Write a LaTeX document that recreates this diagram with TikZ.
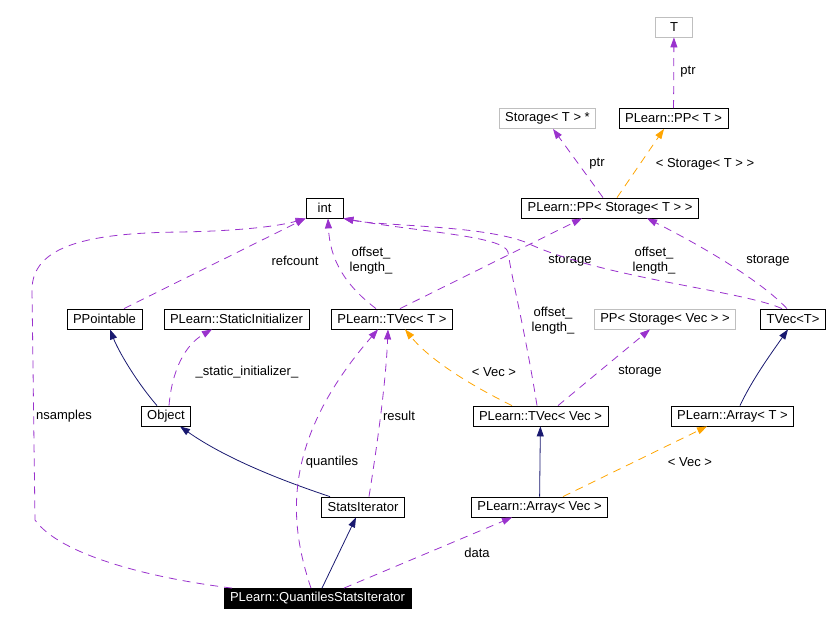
\documentclass[tikz,border=0pt]{standalone}
\usepackage{fontspec}
\setmainfont{Liberation Sans}
\usetikzlibrary{arrows.meta}
\definecolor{orchid}{RGB}{154,50,205}
\definecolor{navyline}{RGB}{25,25,112}
\definecolor{tplorange}{RGB}{255,165,0}
\definecolor{grey75}{RGB}{191,191,191}
\begin{document}
\begin{tikzpicture}[x=1pt, y=-1pt,
    cls/.style={draw, thick, inner xsep=6pt, inner ysep=0pt,
      minimum height=20pt, minimum width=37pt,
      font=\fontsize{13}{15}\selectfont},
    ext/.style={draw=grey75},
    cur/.style={fill=black, text=white},
    lbl/.style={inner sep=0pt, align=center,
      font=\fontsize{13}{15}\selectfont},
    use/.style={draw=orchid, dash pattern=on 8pt off 6pt},
    tpl/.style={draw=tplorange, dash pattern=on 8pt off 6pt},
    inh/.style={draw=navyline}]
    \useasboundingbox (0,0) rectangle (830,625);
    \begin{scope}[every node/.style={cls}]
      \node[cur] (0) at (317.5,598.5) {PLearn::QuantilesStatsIterator};
      \node (1) at (363,507) {StatsIterator}; \node (2) at (166,416)
      {Object}; \node (3) at (104.5,319) {PPointable};
      \node (4) at (236.5,319) {PLearn::StaticInitializer};
      \node (5) at (324.5,208) {int}; \node (6) at (392,319)
      {PLearn::TVec< T >};
      \node (7) at (539.5,507) {PLearn::Array< Vec >};
      \node (8) at (540.5,416) {PLearn::TVec< Vec >};
      \node (9) at (732.5,416) {PLearn::Array< T >};
      \node (10) at (793,319) {TVec<T>};
      \node[ext] (11) at (665,319) {PP< Storage< Vec > >};
      \node (12) at (610,208) {PLearn::PP< Storage< T > >};
      \node[ext] (13) at (547.5,118.5) {Storage< T > *};
      \node (14) at (673.5,118.5) {PLearn::PP< T >};
      \node[ext] (15) at (674,27) {T};
    \end{scope}
    \begin{scope}[every node/.style={lbl}]
      \node (l0) at (688,72) {ptr}; \node (l1) at (597,164) {ptr};
      \node (l2) at (705,164) {< Storage< T > >};
      \node (l3) at (295,261) {refcount};
      \node (l4) at (371,261) {offset\_\\length\_};
      \node (l5) at (570,261) {storage}; \node (l6) at (654,261)
      {offset\_\\length\_}; \node (l7) at (768,261) {storage};
      \node (l8) at (553,321) {offset\_\\length\_};
      \node (l9) at (640,372) {storage}; \node (l10) at (494,372)
      {< Vec >}; \node (l11) at (247,372) {\_static\_initializer\_};
      \node (l12) at (399,416) {result}; \node (l13) at (64,416)
      {nsamples}; \node (l14) at (332,462) {quantiles};
      \node (l15) at (690,462) {< Vec >}; \node (l16) at (477,553)
      {data};
    \end{scope}
    \begin{scope}[->, >={Triangle[length=10pt, width=7pt]}, thick]
      % inheritance
      \draw[inh] ([xshift=4.5]0.north) -- ([xshift=-7]1.south);
      \draw[inh] ([xshift=-33]1.north) .. controls (280,480) and
      (225,458) .. ([xshift=14]2.south);
      \draw[inh] ([xshift=-9]2.north) .. controls (135,380) and
      (118,350) .. ([xshift=5.5]3.south);
      \draw[inh] (7) -- (8);
      \draw[inh] ([xshift=7.5]9.north) .. controls (752,380) and
      (770,355) .. ([xshift=-5]10.south);
      % usage
      \draw[use] ([xshift=26.5]0.north) -- ([xshift=-27.5]7.south);
      \draw[use] ([xshift=-6.5]0.north) .. controls (288,520) and
      (282,440) .. ([xshift=-14]6.south);
      \draw[use] ([xshift=-85.5]0.north) .. controls (150,578) and
      (60,555) .. (35,520) -- (32,290) .. controls (32,245) and
      (90,233) .. (180,232) .. controls (240,231) and (280,226)
      .. (5.south west);
      \draw[use] ([xshift=6]1.north) .. controls (378,440) and
      (386,380) .. ([xshift=-4]6.south);
      \draw[use] ([xshift=3]2.north) .. controls (172,370) and
      (185,345) .. ([xshift=-24.5]4.south);
      \draw[use] ([xshift=19.5]3.north) -- (5.south west);
      \draw[use] ([xshift=-16]6.north) .. controls (345,285) and
      (330,260) .. ([xshift=3.5]5.south);
      \draw[use] ([xshift=8]6.north) -- ([xshift=-28]12.south);
      \draw[use] ([xshift=-3.5]8.north) .. controls (525,330) and
      (512,280) .. (508,252) .. controls (504,236) and (420,232)
      .. (5.south east);
      \draw[use] ([xshift=-11]10.north) .. controls (740,290) and
      (600,278) .. (525,242) .. controls (480,225) and (380,226)
      .. (5.south east);
      \draw[use] ([xshift=-6]10.north) .. controls (760,280) and
      (700,245) .. ([xshift=37]12.south);
      \draw[use] ([xshift=17.5]8.north) -- ([xshift=-15]11.south);
      \draw[use] ([xshift=-7]12.north) -- ([xshift=5.5]13.south);
      \draw[use] (14) -- (15);
      % templates
      \draw[tpl] ([xshift=-28.5]8.north) .. controls (470,385) and
      (430,360) .. ([xshift=13]6.south);
      \draw[tpl] ([xshift=23.5]7.north) -- ([xshift=-25.5]9.south);
      \draw[tpl] ([xshift=7]12.north) -- ([xshift=-9.5]14.south);
    \end{scope}
  \end{tikzpicture}
\end{document}
